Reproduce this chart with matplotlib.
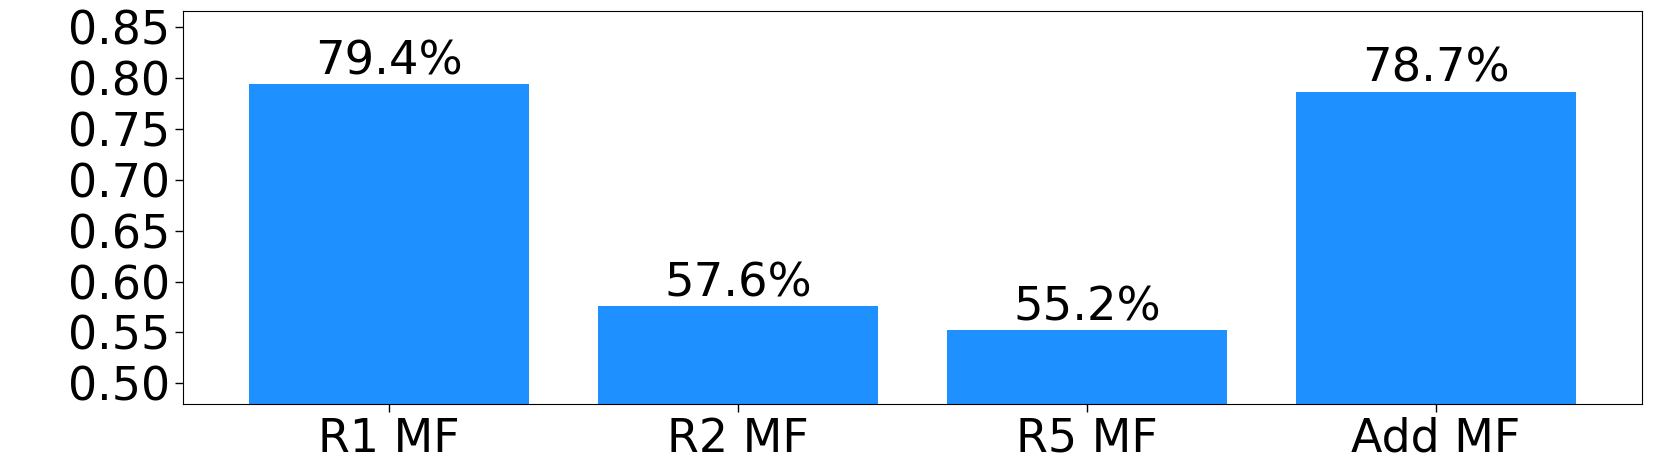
import matplotlib
matplotlib.use("Agg")
import matplotlib.pyplot as plt

categories = ["R1 MF", "R2 MF", "R5 MF", "Add MF"]
values = [0.794, 0.576, 0.552, 0.787]
labels = ["79.4%", "57.6%", "55.2%", "78.7%"]
yticks = [0.50, 0.55, 0.60, 0.65, 0.70, 0.75, 0.80, 0.85]

fig = plt.figure(figsize=(16.61, 4.65), dpi=100)
ax = fig.add_axes([183/1661, (465-403.6)/465, (1642-183)/1661, (403.6-10.6)/465])
x = range(len(categories))
ax.bar(x, values, width=0.8, color="#1E90FF")
for xi, v, lab in zip(x, values, labels):
    ax.text(xi, v, lab, ha="center", va="bottom", fontsize=33.5)
ax.set_xticks(list(x))
ax.set_xticklabels(categories, fontsize=33)
ax.set_yticks(yticks)
ax.set_yticklabels([f"{t:.2f}" for t in yticks], fontsize=33)
ax.set_ylim(0.48, 0.8666)
ax.tick_params(length=6, width=1)
fig.savefig("out.png", dpi=100)
